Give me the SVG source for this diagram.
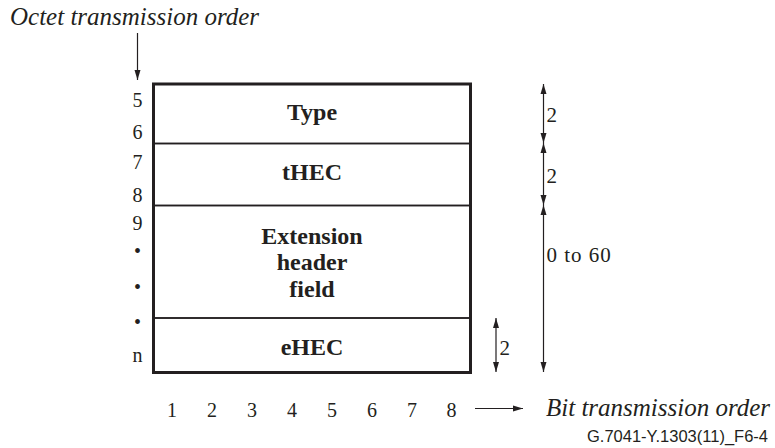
<svg xmlns="http://www.w3.org/2000/svg" width="775" height="448" viewBox="0 0 775 448">
<style>
.num{font-family:"Liberation Serif",serif;font-size:20px;fill:#231f20}
.lab{font-family:"Liberation Serif",serif;font-size:24px;font-weight:bold;fill:#231f20;text-anchor:middle}
.it{font-family:"Liberation Serif",serif;font-size:25px;font-style:italic;fill:#231f20}
.dim{font-family:"Liberation Serif",serif;font-size:21px;fill:#231f20}
.ref{font-family:"Liberation Sans",Arial,sans-serif;font-size:16.5px;fill:#231f20;text-anchor:end}
.cell{fill:none;stroke:#231f20;stroke-width:1.5}
.frame{fill:none;stroke:#231f20;stroke-width:3}
.conn{fill:none;stroke:#231f20;stroke-width:1.2}
</style>
<defs>
<marker id="ah" markerUnits="userSpaceOnUse" markerWidth="10" markerHeight="10" viewBox="0 0 10 10" refX="10" refY="5" orient="auto-start-reverse">
<path d="M0,2 L10,5 L0,8 Z" fill="#231f20"/>
</marker>
</defs>
<rect width="775" height="448" fill="#fff"/>
<text class="it" x="10" y="25">Octet transmission order</text>
<g id="connectors">
<line class="conn" x1="137.5" y1="33" x2="137.5" y2="80" marker-end="url(#ah)"/>
<line class="conn" x1="543.5" y1="84" x2="543.5" y2="143" marker-start="url(#ah)" marker-end="url(#ah)"/>
<line class="conn" x1="543.5" y1="143" x2="543.5" y2="205" marker-start="url(#ah)" marker-end="url(#ah)"/>
<line class="conn" x1="543.5" y1="205" x2="543.5" y2="372" marker-start="url(#ah)" marker-end="url(#ah)"/>
<line class="conn" x1="496" y1="318" x2="496" y2="372" marker-start="url(#ah)" marker-end="url(#ah)"/>
<line class="conn" x1="475" y1="408.5" x2="523" y2="408.5" marker-end="url(#ah)"/>
</g>
<g id="type">
<rect class="cell" x="153.5" y="84" width="317" height="59.5"/>
<text class="lab" x="312" y="119.5">Type</text>
</g>
<g id="thec">
<rect class="cell" x="153.5" y="143.5" width="317" height="62"/>
<text class="lab" x="312" y="180">tHEC</text>
</g>
<g id="extension">
<rect class="cell" x="153.5" y="205.5" width="317" height="112.5"/>
<text class="lab" x="312" y="244">Extension</text>
<text class="lab" x="312" y="269.5">header</text>
<text class="lab" x="312" y="297">field</text>
</g>
<g id="ehec">
<rect class="cell" x="153.5" y="318" width="317" height="54"/>
<text class="lab" x="312" y="355">eHEC</text>
</g>
<rect class="frame" x="153.5" y="84" width="317" height="288.5"/>
<g id="octet-numbers" class="num" text-anchor="middle">
<text x="137.5" y="107">5</text>
<text x="137.5" y="139">6</text>
<text x="137.5" y="169">7</text>
<text x="137.5" y="202">8</text>
<text x="137.5" y="230">9</text>
<text x="137.5" y="258">•</text>
<text x="137.5" y="294">•</text>
<text x="137.5" y="329">•</text>
<text x="137.5" y="362">n</text>
</g>
<g id="bit-numbers" class="num" text-anchor="middle">
<text x="172" y="416.5">1</text>
<text x="212" y="416.5">2</text>
<text x="252" y="416.5">3</text>
<text x="292" y="416.5">4</text>
<text x="332" y="416.5">5</text>
<text x="372" y="416.5">6</text>
<text x="412" y="416.5">7</text>
<text x="451.5" y="416.5">8</text>
</g>
<g id="dims">
<text class="dim" x="546.5" y="122">2</text>
<text class="dim" x="546.5" y="183">2</text>
<text class="dim" x="546.5" y="262" letter-spacing="1">0 to 60</text>
<text class="dim" x="499.5" y="355">2</text>
</g>
<text class="it" x="546" y="416">Bit transmission order</text>
<text class="ref" x="768" y="442">G.7041-Y.1303(11)_F6-4</text>
</svg>
